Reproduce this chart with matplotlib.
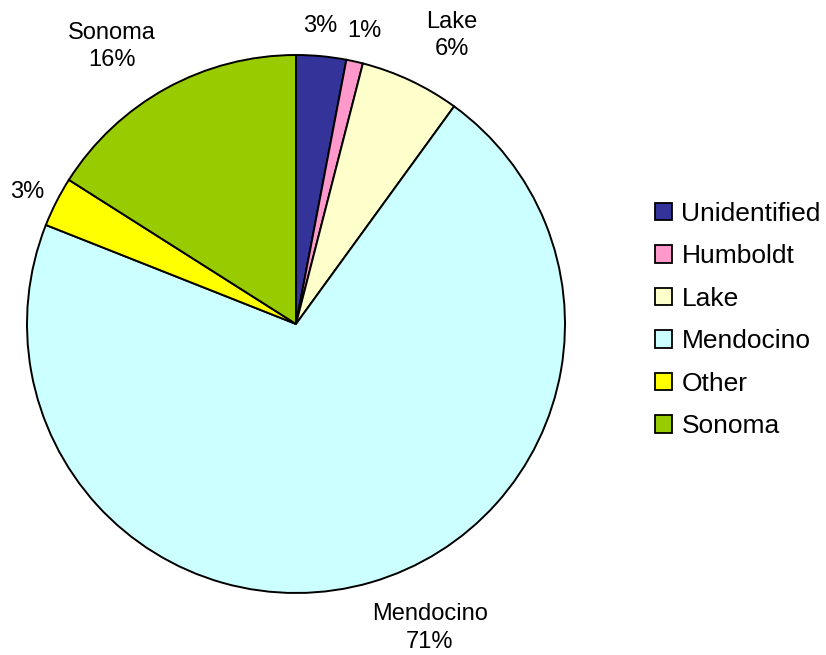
import matplotlib.pyplot as plt
from matplotlib.patches import Patch

plt.rcParams['font.family'] = ['Liberation Sans', 'DejaVu Sans']

# county share of records (%), clockwise from 12 o'clock
counties = ['Unidentified', 'Humboldt', 'Lake', 'Mendocino', 'Other', 'Sonoma']
shares = [3, 1, 6, 71, 3, 16]
colors = ['#333399', '#FF99CC', '#FFFFCC', '#CCFFFF', '#FFFF00', '#99CC00']
# only the bigger slices carry their name next to the percentage
named = [False, False, True, True, False, True]

# label anchors in pie units (radius = 1)
label_xy = [(0.089, 1.108), (0.253, 1.089), (0.580, 1.074),
            (0.498, -1.130), (-1.0, 0.491), (-0.684, 1.030)]

W, H = 826, 655
fig = plt.figure(figsize=(W / 100, H / 100), dpi=100)
cx, cy, r = 296, 324, 269
ax = fig.add_axes([(cx - r) / W, (H - cy - r) / H, 2 * r / W, 2 * r / H])

wedges, _ = ax.pie(shares, colors=colors, startangle=90, counterclock=False,
                   radius=1, wedgeprops=dict(edgecolor='black', linewidth=1.4))
ax.set_xlim(-1, 1)
ax.set_ylim(-1, 1)
ax.set_aspect('equal')
ax.axis('off')

for name, val, show, (x, y) in zip(counties, shares, named, label_xy):
    txt = f'{name}\n{val}%' if show else f'{val}%'
    ax.text(x, y, txt, ha='center', va='center', fontsize=17,
            linespacing=1.3, clip_on=False)

handles = [Patch(facecolor=c, edgecolor='black', linewidth=1.3) for c in colors]
fig.legend(handles, counties, loc='center left',
           bbox_to_anchor=(655 / W, 1 - 320 / H), frameon=False,
           fontsize=19, handlelength=0.65, handleheight=0.65,
           handletextpad=0.35, labelspacing=0.7, borderpad=0, borderaxespad=0)

fig.savefig('out.png', dpi=100)
